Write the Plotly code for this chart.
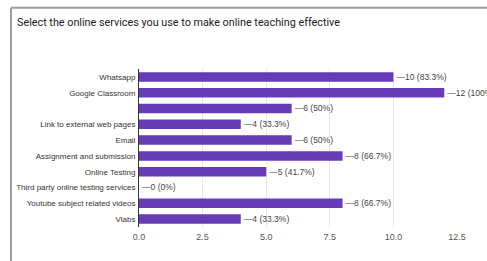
import plotly.graph_objects as go

categories = ["Whatsapp", "Google Classroom", " ", "Link to external web pages", "Email",
              "Assignment and submission", "Online Testing", "Third party online testing services",
              "Youtube subject related videos", "Vlabs"]
counts = [10, 12, 6, 4, 6, 8, 5, 0, 8, 4]
total_respondents = 12
x_ticks = [0, 2.5, 5, 7.5, 10, 12.5]
x_tick_labels = ["0.0", "2.5", "5.0", "7.5", "10.0", "12.5"]
title_text = "Select the online services you use to make online teaching effective"


def pct(v):
    p = round(v / total_respondents * 100, 1)
    s = ("%.1f" % p).rstrip("0").rstrip(".")
    return s + "%"


labels = ["\u2014%d (%s)" % (v, pct(v)) for v in counts]

W, H = 487, 261
L, R, T, B = 139, 457, 68.6, 227.4
pw, ph = R - L, B - T
bx, by = 11, 7

fig = go.Figure()
fig.add_trace(go.Bar(
    y=categories, x=counts, orientation="h",
    marker=dict(color="#673ab7", line=dict(width=0)),
    text=labels, textposition="outside", cliponaxis=False,
    textfont=dict(family="Liberation Sans, Arial", size=9, color="#444444"),
    hoverinfo="skip",
))

fig.update_layout(
    width=W, height=H,
    margin=dict(l=L, r=W - R, t=T, b=H - B, autoexpand=False),
    paper_bgcolor="white", plot_bgcolor="white",
    bargap=0.4,
    showlegend=False,
    title=dict(text=title_text, x=17 / W, xanchor="left", y=1 - 22 / H, yanchor="middle",
               pad=dict(l=0, r=0, t=0, b=0),
               font=dict(family="Roboto, Arial", size=10.8, color="#202124")),
    xaxis=dict(range=[0, 12.5], tickvals=x_ticks, ticktext=x_tick_labels, automargin=False,
               showgrid=True, gridcolor="#e6e6e6", gridwidth=1, zeroline=False,
               showline=False, ticks="", ticklabelstandoff=3,
               tickfont=dict(family="Liberation Sans, Arial", size=9, color="#555555")),
    yaxis=dict(categoryorder="array", categoryarray=categories[::-1], autorange=False,
               range=[-0.5, len(categories) - 0.5], automargin=False,
               showgrid=False, zeroline=False, showline=True, linecolor="#333333", linewidth=1,
               ticks="", ticklabelstandoff=1,
               tickfont=dict(family="Liberation Sans, Arial", size=8, color="#333333")),
    shapes=[
        dict(type="line", xref="paper", yref="paper",
             x0=(bx - L) / pw, x1=(bx - L) / pw, y0=-1, y1=(B - by) / ph,
             line=dict(color="#9e9e9e", width=2)),
        dict(type="line", xref="paper", yref="paper",
             x0=(bx - L) / pw, x1=2, y0=(B - by) / ph, y1=(B - by) / ph,
             line=dict(color="#9e9e9e", width=2)),
    ],
)

fig.write_html("out.html", config={"displayModeBar": False},
               post_script="document.body.style.margin='0';document.body.style.padding='0';")
